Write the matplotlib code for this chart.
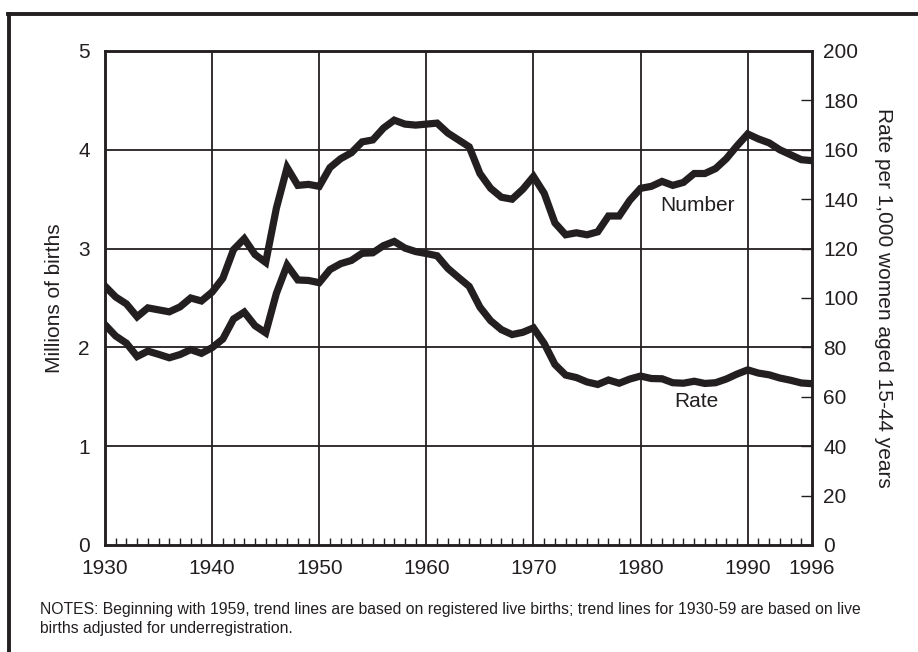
import numpy as np
import matplotlib
matplotlib.use('Agg')
import matplotlib.pyplot as plt
from matplotlib.lines import Line2D
from matplotlib.ticker import MultipleLocator

plt.rcParams['font.family'] = ['Liberation Sans', 'DejaVu Sans']

# Data
years = list(range(1930, 1997))
births_millions = [
    2.62, 2.51, 2.44, 2.31, 2.40, 2.38, 2.36, 2.41, 2.50, 2.47,
    2.56, 2.70, 2.99, 3.10, 2.94, 2.86, 3.41, 3.82, 3.64, 3.65,
    3.63, 3.82, 3.91, 3.97, 4.08, 4.10, 4.22, 4.30, 4.26, 4.25,
    4.26, 4.27, 4.17, 4.10, 4.03, 3.76, 3.61, 3.52, 3.50, 3.60,
    3.73, 3.56, 3.26, 3.14, 3.16, 3.14, 3.17, 3.33, 3.33, 3.49,
    3.61, 3.63, 3.68, 3.64, 3.67, 3.76, 3.76, 3.81, 3.91, 4.04,
    4.16, 4.11, 4.07, 4.00, 3.95, 3.90, 3.89,
]
rate_per_1000 = [
    89.2, 84.6, 81.7, 76.3, 78.5, 77.2, 75.8, 77.1, 79.1, 77.6,
    79.9, 83.4, 91.5, 94.3, 88.8, 85.9, 101.9, 113.3, 107.3, 107.1,
    106.2, 111.5, 113.9, 115.2, 118.1, 118.3, 121.2, 122.9, 120.2, 118.8,
    118.0, 117.1, 112.0, 108.3, 104.7, 96.3, 90.8, 87.2, 85.2, 86.1,
    87.9, 81.6, 73.1, 68.8, 67.8, 66.0, 65.0, 66.8, 65.5, 67.2,
    68.4, 67.4, 67.3, 65.7, 65.5, 66.3, 65.4, 65.7, 67.2, 69.2,
    70.9, 69.6, 68.9, 67.6, 66.7, 65.6, 65.3,
]
xticks = [1930, 1940, 1950, 1960, 1970, 1980, 1990, 1996]
notes = ("NOTES: Beginning with 1959, trend lines are based on registered live births; "
         "trend lines for 1930-59 are based on live\nbirths adjusted for underregistration.")

ink = '#231f20'
fs = 15

fig = plt.figure(figsize=(9.18, 6.52), dpi=100)
ax = fig.add_axes([105 / 918, 1 - 545 / 652, 707 / 918, 494 / 652])
ax2 = ax.twinx()

ax.plot(years, births_millions, color=ink, lw=5.2, solid_joinstyle='miter', zorder=3)
ax2.plot(years, rate_per_1000, color=ink, lw=5.2, solid_joinstyle='miter', zorder=3)

ax.set_xlim(1930, 1996)
ax.set_ylim(0, 5)
ax2.set_ylim(0, 200)

ax.set_xticks(xticks)
ax.xaxis.set_minor_locator(MultipleLocator(1))
ax.set_yticks(range(0, 6))
ax2.set_yticks(range(0, 201, 20))

# grid at decades and whole millions
for x in xticks[1:-1]:
    ax.axvline(x, color=ink, lw=1.3, zorder=1)
for y in range(1, 5):
    ax.axhline(y, color=ink, lw=1.3, zorder=1)

for a in (ax, ax2):
    for s in a.spines.values():
        s.set_color(ink)
        s.set_linewidth(1.8)

ax.tick_params(axis='x', which='major', direction='in', length=0, labelsize=fs,
               pad=10, colors=ink)
ax.tick_params(axis='x', which='minor', direction='in', length=5, width=1, colors=ink)
ax.tick_params(axis='y', direction='in', length=0, labelsize=fs, pad=11, colors=ink)
ax2.tick_params(axis='y', direction='in', length=8, width=1, labelsize=fs, pad=8,
                colors=ink)

ax.set_ylabel('Millions of births', fontsize=fs, color=ink, labelpad=10)
ax2.set_ylabel('Rate per 1,000 women aged 15-44 years', fontsize=fs, color=ink,
               rotation=270, labelpad=25)

ax.text(1985.3, 3.44, 'Number', fontsize=fs, color=ink, ha='center', va='center')
ax.text(1985.2, 1.45, 'Rate', fontsize=fs, color=ink, ha='center', va='center')

fig.text(40 / 918, 1 - 619 / 652, notes, fontsize=11.3, color=ink, va='center',
         linespacing=1.3)

# page frame on left and top
fig.add_artist(Line2D([9 / 918, 9 / 918], [0, 1 - 14 / 652], transform=fig.transFigure,
                      color=ink, lw=2.8))
fig.add_artist(Line2D([8 / 918, 1], [1 - 14 / 652, 1 - 14 / 652], transform=fig.transFigure,
                      color=ink, lw=2.8))

fig.savefig('out.png', dpi=100)
